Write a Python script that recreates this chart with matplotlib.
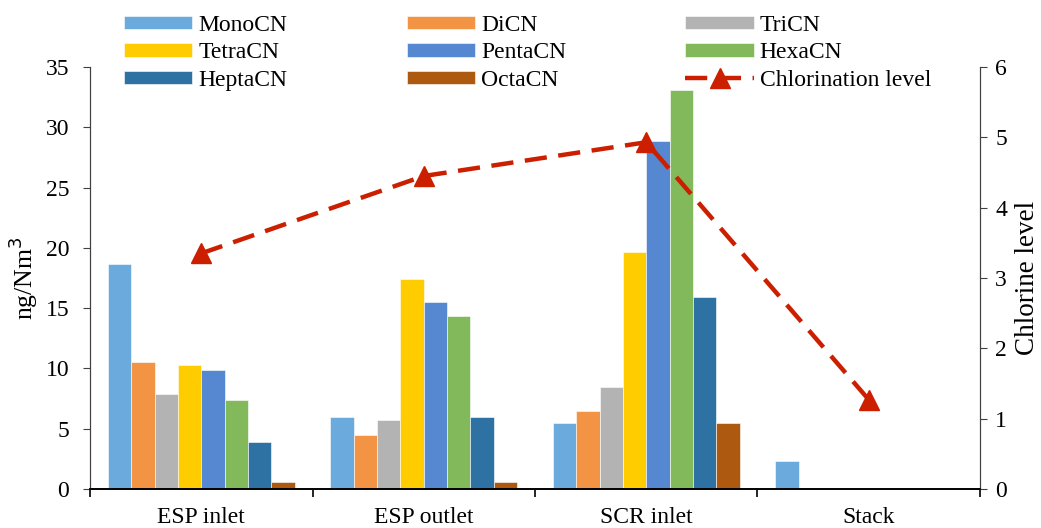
import matplotlib
matplotlib.use("Agg")
import matplotlib.pyplot as plt
import numpy as np

plt.rcParams['font.family'] = ['Liberation Serif', 'DejaVu Serif']

# data
sites = ['ESP inlet', 'ESP outlet', 'SCR inlet', 'Stack']
homologues = ['MonoCN', 'DiCN', 'TriCN', 'TetraCN', 'PentaCN', 'HexaCN', 'HeptaCN', 'OctaCN']
mono = [18.7, 6.0, 5.45, 2.3]
di = [10.5, 4.5, 6.5, 0.1]
tri = [7.9, 5.7, 8.45, 0.05]
tetra = [10.3, 17.4, 19.65, 0.0]
penta = [9.9, 15.5, 28.85, 0.0]
hexa = [7.4, 14.35, 33.1, 0.0]
hepta = [3.9, 6.0, 15.9, 0.0]
octa = [0.6, 0.6, 5.5, 0.0]
chlor_level = [3.35, 4.45, 4.93, 1.27]

colors = ['#6aaadc', '#f39444', '#b3b3b3', '#ffcc00', '#5588d0', '#82b95a', '#2e72a4', '#ad5a10']
series = [mono, di, tri, tetra, penta, hexa, hepta, octa]

fig = plt.figure(figsize=(10.41, 5.28), dpi=100)
ax = fig.add_axes([90/1041, 39/528, 890/1041, 422/528])
ax2 = ax.twinx()

x = np.arange(len(sites))
w = 0.105
handles = []
for i, (vals, c) in enumerate(zip(series, colors)):
    b = ax.bar(x + (i - 3.5) * w, vals, w, color=c, edgecolor='white', linewidth=0.4,
               label=homologues[i])
    handles.append(b)

ln, = ax2.plot(x, chlor_level, color='#cc1f00', lw=3.2, ls=(0, (5, 2.6)),
               marker='^', ms=15, label='Chlorination level')
handles.append(ln)

ax.set_xlim(-0.5, 3.5)
ax.set_ylim(0, 35)
ax.set_yticks(range(0, 36, 5))
ax2.set_ylim(0, 6)
ax2.set_yticks(range(0, 7))

ax.set_xticks(x)
ax.set_xticklabels(sites)
ax.set_xticks(np.arange(-0.5, 4, 1), minor=True)
ax.tick_params(axis='x', which='major', length=0, pad=13, labelsize=17)
ax.tick_params(axis='x', which='minor', length=6, width=1.2, direction='out', color='black')
ax.tick_params(axis='y', labelsize=17, length=5, pad=10, color='#404040')
ax2.tick_params(axis='y', labelsize=17, length=5, pad=6, color='#404040')

for a in (ax, ax2):
    a.spines['top'].set_visible(False)
    a.spines['left'].set_color('#404040')
    a.spines['right'].set_color('#404040')
    a.spines['bottom'].set_color('black')
    a.spines['bottom'].set_linewidth(1.2)

ax.set_ylabel('ng/Nm$^3$', fontsize=18.5, labelpad=4)
ax2.set_ylabel('Chlorine level', fontsize=19.5, labelpad=6)

order = [0, 3, 6, 1, 4, 7, 2, 5, 8]
labels = homologues + ['Chlorination level']
fig.legend([handles[k] for k in order], [labels[k] for k in order],
           loc='upper left', bbox_to_anchor=(124/1041, 1 - 15/528), ncol=3,
           frameon=False, fontsize=17, handlelength=2.9, handleheight=0.5,
           handletextpad=0.25, columnspacing=5.05, labelspacing=0.27,
           borderpad=0, borderaxespad=0)

fig.savefig('out.png', dpi=100)
